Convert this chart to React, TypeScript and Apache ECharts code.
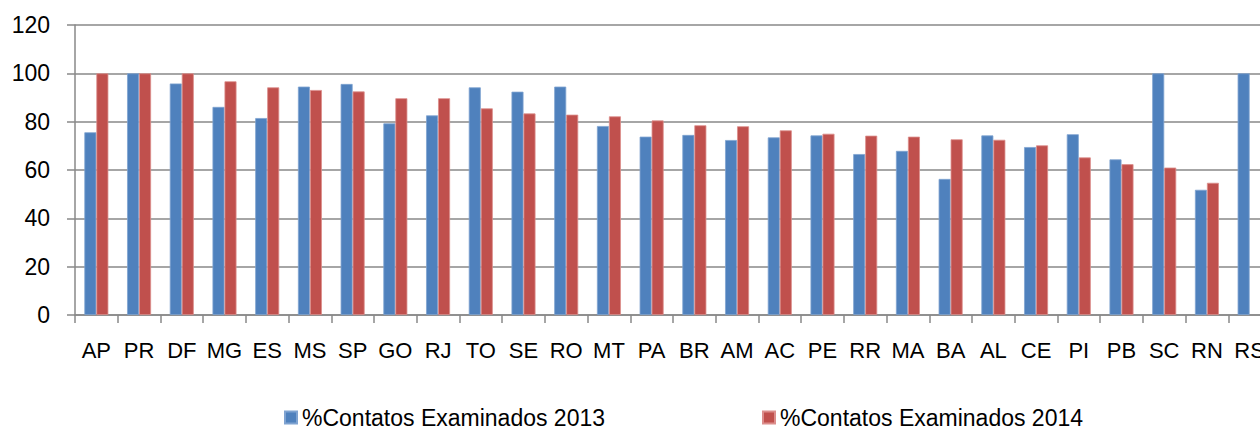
import React, { useEffect, useRef } from "react";
import * as echarts from "echarts";

const categories = ["AP","PR","DF","MG","ES","MS","SP","GO","RJ","TO","SE","RO","MT","PA","BR","AM","AC","PE","RR","MA","BA","AL","CE","PI","PB","SC","RN","RS"];
const values2013 = [75.6,100,95.8,86.1,81.5,94.5,95.6,79.3,82.6,94.2,92.4,94.5,78.2,73.8,74.5,72.4,73.5,74.3,66.6,67.9,56.3,74.3,69.5,74.8,64.4,100,51.8,100];
const values2014 = [100,100,100,96.7,94.2,93.1,92.5,89.7,89.7,85.5,83.4,82.9,82.2,80.5,78.5,78.1,76.4,75.0,74.2,73.8,72.7,72.5,70.2,65.2,62.4,61.0,54.7,null];
const name2013 = "%Contatos Examinados 2013";
const name2014 = "%Contatos Examinados 2014";
const yTicks = { min: 0, max: 120, interval: 20 };

const FONT = "Liberation Sans, Arial, sans-serif";

export default function App() {
  const ref = useRef<HTMLDivElement>(null);
  useEffect(() => {
    if (!ref.current) return;
    const chart = echarts.init(ref.current, null, { renderer: "svg" });
    const gray = "#898989";
    chart.setOption({
      animation: false,
      backgroundColor: "#ffffff",
      grid: { left: 75, right: 39, top: 25, bottom: 116, containLabel: false },
      legend: [
        {
          data: [name2013], left: 279, top: 401, itemWidth: 12, itemHeight: 12,
          textStyle: { fontFamily: FONT, fontSize: 23, color: "#000" }, icon: "rect",
        },
        {
          data: [name2014], left: 757, top: 401, itemWidth: 12, itemHeight: 12,
          textStyle: { fontFamily: FONT, fontSize: 23, color: "#000" }, icon: "rect",
        },
      ],
      xAxis: {
        type: "category",
        data: categories,
        boundaryGap: true,
        axisLine: { show: true, lineStyle: { color: gray, width: 1.5 } },
        axisTick: { show: true, length: 8, alignWithLabel: false, lineStyle: { color: gray, width: 1.5 } },
        axisLabel: { fontFamily: FONT, fontSize: 22, color: "#000", margin: 24, interval: 0 },
      },
      yAxis: {
        type: "value",
        min: yTicks.min, max: yTicks.max, interval: yTicks.interval,
        axisLine: { show: true, lineStyle: { color: gray, width: 1.5 } },
        axisTick: { show: true, length: 8, lineStyle: { color: gray, width: 1.5 } },
        axisLabel: { fontFamily: FONT, fontSize: 23, color: "#000", margin: 25 },
        splitLine: { show: true, lineStyle: { color: gray, width: 1.5 } },
      },
      series: [
        {
          name: name2013, type: "bar", data: values2013, barWidth: 12, barGap: "0%",
          itemStyle: { color: "#4F81BD", borderColor: "#7FA3D1", borderWidth: 0.8 },
        },
        {
          name: name2014, type: "bar", data: values2014, barWidth: 12, barGap: "0%",
          itemStyle: { color: "#C0504D", borderColor: "#DC8E8C", borderWidth: 0.8 },
        },
      ],
    });
    return () => chart.dispose();
  }, []);
  return (
    <div style={{ position: "fixed", left: 0, top: 0, width: 1260, height: 431, overflow: "hidden", background: "#fff" }}>
      <div ref={ref} style={{ width: 1310, height: 431 }} />
    </div>
  );
}
